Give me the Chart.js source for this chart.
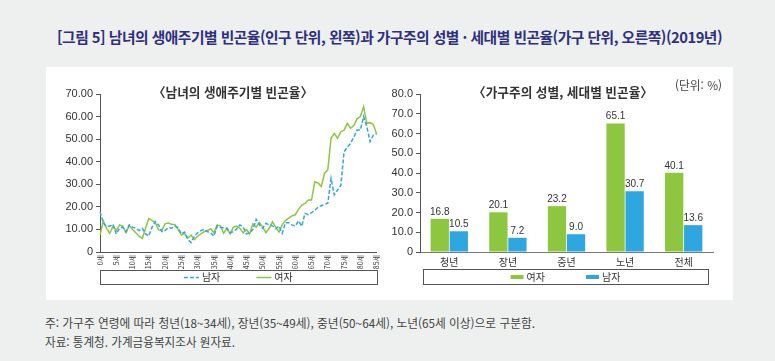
<!DOCTYPE html>
<html lang="ko">
<head>
<meta charset="utf-8">
<script src="https://cdn.jsdelivr.net/npm/chart.js@4.4.1/dist/chart.umd.min.js"></script>
<style>
  body { margin: 0; width: 775px; height: 361px; background: #eef0ef; position: relative; overflow: hidden; font-family: "Noto Sans CJK KR", sans-serif; }
  .txt { position: absolute; white-space: nowrap; transform-origin: 0 50%; line-height: 1; }
  #panel { position: absolute; left: 46px; top: 67px; width: 687px; height: 233px; background: #fff; }
  canvas { position: absolute; }
</style>
</head>
<body>
<div id="panel"></div>
<div class="txt fit" data-w="665" style="left:57px; top:29px; font-size:15px; font-weight:bold; color:#2d2f80; letter-spacing:-0.5px;">[그림 5] 남녀의 생애주기별 빈곤율(인구 단위, 왼쪽)과 가구주의 성별 · 세대별 빈곤율(가구 단위, 오른쪽)(2019년)</div>

<canvas id="lifeChart" width="342" height="228" style="left:46px; top:67px;"></canvas>
<canvas id="houseChart" width="347" height="228" style="left:386px; top:67px;"></canvas>

<div class="txt fit" data-w="160" style="left:153px; top:85px; font-size:13px; font-weight:bold; color:#333;">〈남녀의 생애주기별 빈곤율〉</div>
<div class="txt fit" data-w="180" style="left:473px; top:85px; font-size:13px; font-weight:bold; color:#333;">〈가구주의 성별, 세대별 빈곤율〉</div>
<div class="txt fit" data-w="47" style="left:675px; top:79px; font-size:12px; color:#444;">(단위: %)</div>

<div class="txt fit" data-w="490" style="left:45px; top:317px; font-size:12px; color:#444;">주: 가구주 연령에 따라 청년(18~34세), 장년(35~49세), 중년(50~64세), 노년(65세 이상)으로 구분함.</div>
<div class="txt fit" data-w="190" style="left:45px; top:336px; font-size:12px; color:#444;">자료: 통계청. 가계금융복지조사 원자료.</div>

<script>
// ages 0..85
const ages = [
  '0세','1세','2세','3세','4세','5세','6세','7세','8세','9세',
  '10세','11세','12세','13세','14세','15세','16세','17세','18세','19세',
  '20세','21세','22세','23세','24세','25세','26세','27세','28세','29세',
  '30세','31세','32세','33세','34세','35세','36세','37세','38세','39세',
  '40세','41세','42세','43세','44세','45세','46세','47세','48세','49세',
  '50세','51세','52세','53세','54세','55세','56세','57세','58세','59세',
  '60세','61세','62세','63세','64세','65세','66세','67세','68세','69세',
  '70세','71세','72세','73세','74세','75세','76세','77세','78세','79세',
  '80세','81세','82세','83세','84세','85세'
];

const menRate = [
  17.9, 13.0, 11.2, 11.5, 12.3, 8.0, 10.5, 11.0, 9.0, 12.0,
  11.0, 10.5, 9.5, 10.5, 8.0, 7.0, 11.0, 13.5, 12.0, 9.0,
  9.5, 10.8, 10.5, 11.5, 10.8, 8.0, 8.8, 5.5, 4.2, 7.0,
  8.5, 9.5, 10.0, 9.0, 8.5, 7.0, 11.5, 11.0, 10.6, 10.5,
  8.5, 9.0, 10.2, 12.0, 11.0, 8.0, 8.5, 10.0, 14.5, 12.0,
  10.5, 12.7, 12.0, 11.6, 10.3, 11.5, 8.3, 13.0, 13.0, 12.0,
  11.5, 13.8, 11.4, 17.1, 16.5, 17.4, 18.5, 19.8, 20.5, 21.1,
  21.6, 32.6, 25.3, 27.5, 29.5, 44.4, 46.5, 48.1, 51.0, 54.0,
  54.0, 60.0, 55.5, 48.9, 51.8, 52.3
];

const womenRate = [
  7.5, 13.7, 10.5, 8.3, 11.3, 9.5, 12.0, 11.5, 8.5, 11.8,
  10.0, 8.5, 7.0, 6.0, 10.5, 14.8, 14.0, 13.0, 9.8, 9.6,
  12.5, 12.8, 12.3, 12.2, 10.0, 7.5, 8.2, 6.2, 7.5, 5.5,
  7.0, 8.0, 9.0, 9.5, 10.3, 8.5, 12.0, 11.5, 8.3, 10.5,
  8.0, 11.0, 11.5, 10.5, 8.5, 10.0, 8.0, 12.5, 11.0, 13.0,
  11.0, 8.6, 10.5, 13.4, 11.0, 8.9, 12.0, 14.0, 15.0, 16.0,
  16.5, 18.9, 20.8, 21.5, 23.0, 23.0, 31.1, 30.6, 29.0, 34.9,
  36.4, 50.4, 52.6, 50.4, 53.3, 54.0, 57.0, 54.8, 56.0, 59.0,
  60.0, 64.4, 57.0, 57.3, 56.5, 52.3
];

const groups = ['청년', '장년', '중년', '노년', '전체'];
const womenHouse = [16.8, 20.1, 23.2, 65.1, 40.1];
const menHouse = [10.5, 7.2, 9.0, 30.7, 13.6];

const GREEN = '#8dc63f';
const BLUE = '#2ea7e0';
const AXIS = '#555';
const numFont = '"Liberation Sans", Arial, sans-serif';
const krFont = '"Noto Sans CJK KR", sans-serif';

// squeeze the html texts so they fill the same width as in the source figure
document.querySelectorAll('.fit').forEach(el => {
  const w = el.getBoundingClientRect().width;
  el.style.transform = `scaleX(${el.dataset.w / w})`;
});

// legend drawn inside a thin box below the axis
const boxLegend = {
  id: 'boxLegend',
  afterDraw(chart, args, opts) {
    const { ctx, chartArea } = chart;
    const left = chartArea.left + opts.inset[0];
    const right = chartArea.right - opts.inset[1];
    ctx.save();
    ctx.strokeStyle = AXIS;
    ctx.lineWidth = 1;
    ctx.strokeRect(Math.round(left) + 0.5, opts.top + 0.5, Math.round(right - left), opts.height);
    ctx.font = '10px ' + krFont;
    ctx.fillStyle = '#333';
    ctx.textBaseline = 'middle';
    const items = chart.data.datasets.map(ds => ({ ds, tw: ctx.measureText(ds.label).width }));
    const total = items.reduce((s, it) => s + opts.sample + 3 + it.tw, 0) + opts.spacing * (items.length - 1);
    let x = (left + right) / 2 - total / 2;
    const cy = opts.top + opts.height / 2 + 0.5;
    items.forEach(it => {
      if (opts.kind === 'line') {
        ctx.strokeStyle = it.ds.borderColor;
        ctx.lineWidth = 1.5;
        ctx.setLineDash(it.ds.borderDash || []);
        ctx.beginPath();
        ctx.moveTo(x, cy);
        ctx.lineTo(x + opts.sample, cy);
        ctx.stroke();
        ctx.setLineDash([]);
      } else {
        ctx.fillStyle = it.ds.backgroundColor;
        ctx.fillRect(x, cy - 2, opts.sample, 4);
      }
      x += opts.sample + 3;
      ctx.fillStyle = '#333';
      ctx.fillText(it.ds.label, x, cy);
      x += it.tw + opts.spacing;
    });
    ctx.restore();
  }
};

// numbers above the bars
const barValueLabels = {
  id: 'barValueLabels',
  afterDatasetsDraw(chart) {
    const ctx = chart.ctx;
    ctx.save();
    ctx.font = '10px ' + numFont;
    ctx.fillStyle = '#333';
    ctx.textAlign = 'center';
    ctx.textBaseline = 'bottom';
    chart.data.datasets.forEach((ds, i) => {
      chart.getDatasetMeta(i).data.forEach((bar, j) => {
        ctx.fillText(ds.data[j].toFixed(1), bar.x, bar.y - 2);
      });
    });
    ctx.restore();
  }
};

new Chart(document.getElementById('lifeChart'), {
  type: 'line',
  data: {
    labels: ages,
    datasets: [
      { label: '남자', data: menRate, borderColor: BLUE, borderWidth: 1.5, borderDash: [4, 2], pointRadius: 0, tension: 0 },
      { label: '여자', data: womenRate, borderColor: GREEN, borderWidth: 1.5, pointRadius: 0, tension: 0 }
    ]
  },
  options: {
    responsive: false,
    animation: false,
    layout: { padding: { top: 27, right: 8, bottom: 25, left: 0 } },
    plugins: {
      legend: { display: false },
      tooltip: { enabled: false },
      boxLegend: { kind: 'line', inset: [0, 0], top: 203, height: 14, sample: 15, spacing: 36 }
    },
    scales: {
      x: {
        grid: { display: false, drawTicks: false },
        border: { color: AXIS },
        ticks: {
          autoSkip: false, minRotation: 90, maxRotation: 90, padding: 3,
          color: '#333', font: { size: 7, family: krFont },
          callback: (v, i) => (i % 5 === 0 ? ages[i] : '')
        },
        afterFit: s => { s.height = 18; }
      },
      y: {
        min: 0, max: 70,
        grid: { drawOnChartArea: false, tickLength: 4, color: AXIS },
        border: { color: AXIS },
        ticks: {
          stepSize: 10, padding: 3, color: '#333', font: { size: 11, family: numFont },
          callback: v => (v === 0 ? '0' : v.toFixed(2))
        },
        afterFit: s => { s.width = 54; }
      }
    }
  },
  plugins: [boxLegend]
});

new Chart(document.getElementById('houseChart'), {
  type: 'bar',
  data: {
    labels: groups,
    datasets: [
      { label: '여자', data: womenHouse, backgroundColor: GREEN },
      { label: '남자', data: menHouse, backgroundColor: BLUE }
    ]
  },
  options: {
    responsive: false,
    animation: false,
    layout: { padding: { top: 27, right: 20, bottom: 27, left: 0 } },
    datasets: { bar: { categoryPercentage: 0.65, barPercentage: 0.96 } },
    plugins: {
      legend: { display: false },
      tooltip: { enabled: false },
      boxLegend: { kind: 'bar', inset: [3, 5], top: 202, height: 15, sample: 13, spacing: 41 }
    },
    scales: {
      x: {
        grid: { display: false, drawTicks: false },
        border: { color: '#777' },
        ticks: { padding: 4, color: '#333', font: { size: 10, family: krFont } },
        afterFit: s => { s.height = 16; }
      },
      y: {
        min: 0, max: 80,
        grid: { drawOnChartArea: false, tickLength: 4, color: AXIS },
        border: { color: AXIS },
        ticks: {
          stepSize: 10, padding: 3, color: '#333', font: { size: 11, family: numFont },
          callback: v => (v === 0 ? '0' : v.toFixed(1))
        },
        afterFit: s => { s.width = 34; }
      }
    }
  },
  plugins: [barValueLabels, boxLegend]
});
</script>
</body>
</html>
